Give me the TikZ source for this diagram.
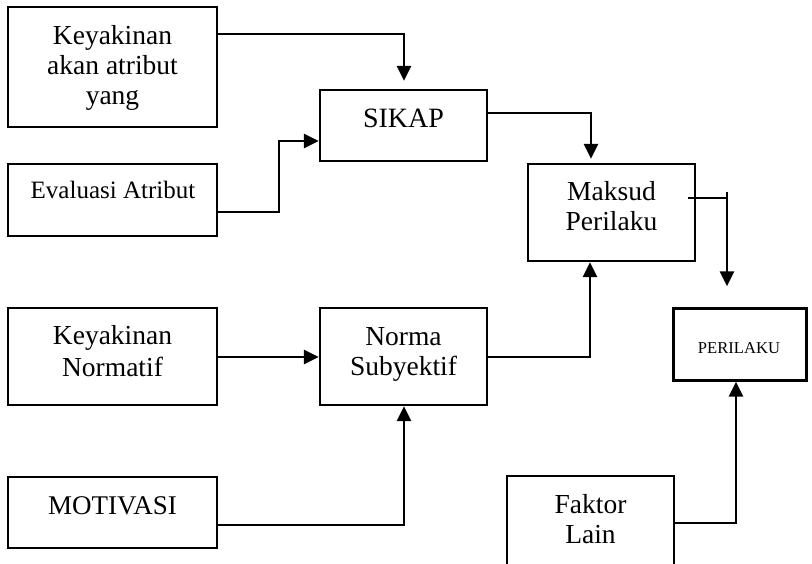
\documentclass[tikz,border=0pt]{standalone}
\usepackage{fontspec}
\setmainfont{Liberation Serif}
\usetikzlibrary{arrows.meta}
\tikzset{
  box/.style={draw, line width=2.2pt, inner sep=0pt, fill=white},
  txt/.style={inner sep=0pt, align=center, font=\fontsize{27.5}{30}\selectfont},
  conn/.style={line width=2.8pt, line cap=butt, line join=miter},
  arr/.style={conn, -{Triangle[width=14pt,length=15pt]}}
}
\begin{document}
\begin{tikzpicture}[x=1pt,y=-1pt]
\useasboundingbox (0,0) rectangle (812,563);
\fill[white] (0,0) rectangle (812,563);
\clip (0,0) rectangle (812,563);
% boxes
\node[box, minimum width=209pt, minimum height=120pt] (k1) at (112.5,67) {};
\node[box, minimum width=209pt, minimum height=72pt] (ev) at (112.5,200) {};
\node[box, minimum width=167pt, minimum height=71pt] (sikap) at (403.5,125.5) {};
\node[box, minimum width=167pt, minimum height=97pt] (maksud) at (611.5,212.5) {};
\node[box, minimum width=209pt, minimum height=97pt] (kn) at (112.5,356.5) {};
\node[box, minimum width=167pt, minimum height=97pt] (norma) at (403.5,356.5) {};
\node[box, minimum width=209pt, minimum height=71pt] (motiv) at (112.5,512.5) {};
\node[box, minimum width=133pt, minimum height=72pt] (peri) at (740,344.5) {};
\node[box, minimum width=167pt, minimum height=124pt] (faktor) at (590.5,538) {};
% texts
\node[txt] (k1t) at (112.5,67.6) {Keyakinan\\akan atribut\\yang};
\node[txt, font=\fontsize{25}{30}\selectfont] (evt) at (113,189.5) {Evaluasi Atribut};
\node[txt, font=\fontsize{28}{30}\selectfont] (sikapt) at (403.5,118) {SIKAP};
\node[txt] (maksudt) at (611.5,206.3) {Maksud\\Perilaku};
\node[txt, font=\fontsize{27.5}{31.5}\selectfont] (knt) at (112.5,351) {Keyakinan\\Normatif};
\node[txt] (normat) at (403.5,354) {Norma\\Subyektif};
\node[txt, font=\fontsize{27}{30}\selectfont] (motivt) at (112.5,506) {MOTIVASI};
\node[txt, font=\fontsize{16.6}{20}\selectfont] (perit) at (739,348) {PERILAKU};
\node[txt] (faktort) at (590.5,519) {Faktor\\Lain};
% connectors
\draw[arr, shorten >=8pt] (k1.east |- 0,34) -| (404,0 |- sikap.north);
\draw[arr] (ev.east |- 0,212) -| (279,141) -- (sikap.west |- 0,141);
\draw[arr, shorten >=4pt] (sikap.east |- 0,113) -| (591,0 |- maksud.north);
\draw[conn] ([xshift=-8pt]maksud.east |- 0,198) -- (727,198);
\coordinate (mp) at (727,192);
\draw[arr, shorten >=21pt] (mp) -- (727,0 |- peri.north);
\draw[arr] (norma.east |- 0,357) -| (590,0 |- maksud.south);
\draw[arr] (kn.east |- 0,357) -- (norma.west |- 0,357);
\draw[arr] (motiv.east |- 0,525) -| (404,0 |- norma.south);
\draw[arr] (faktor.east |- 0,523) -| (736,0 |- peri.south);
\end{tikzpicture}
\end{document}
